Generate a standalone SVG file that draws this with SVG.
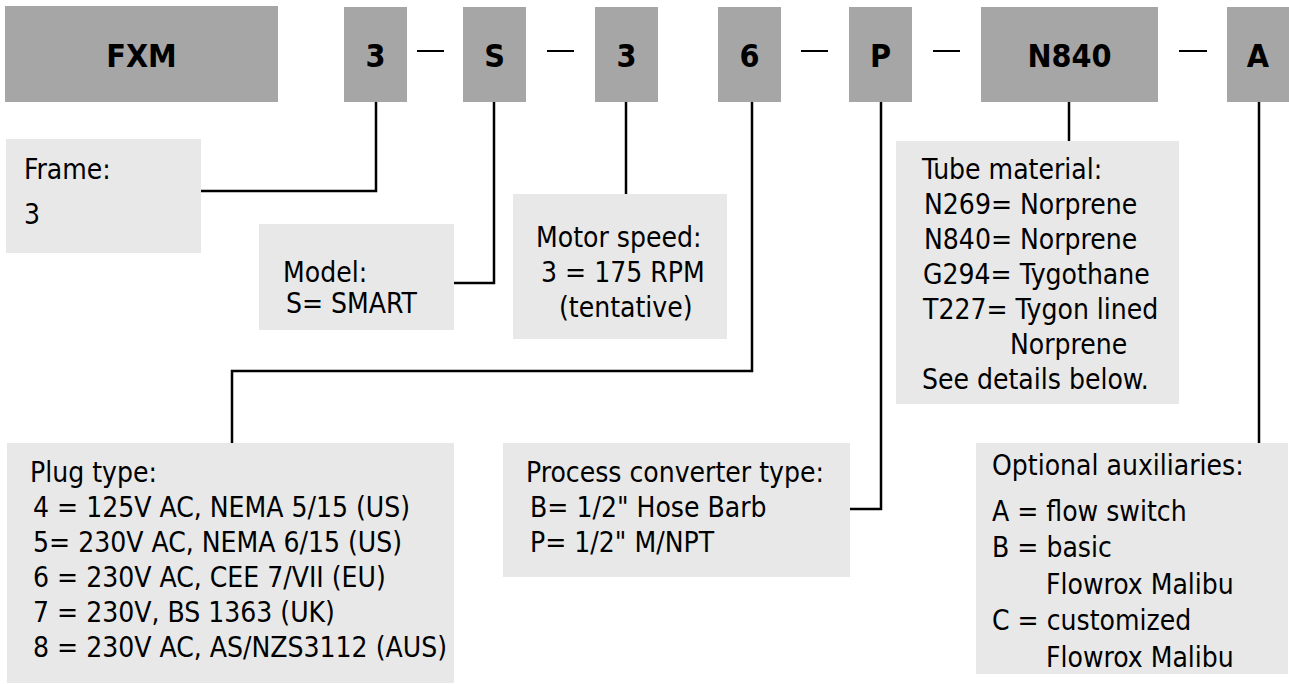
<svg xmlns="http://www.w3.org/2000/svg" width="1289" height="684" viewBox="0 0 1289 684">
<style>
.code{fill:#a6a6a6}
.box{fill:#e8e8e8}
.ct{font-family:"DejaVu Sans Condensed","DejaVu Sans",sans-serif;font-stretch:condensed;font-weight:bold;font-size:32px;fill:#000;text-anchor:middle}
.t{font-family:"DejaVu Sans Condensed","DejaVu Sans",sans-serif;font-stretch:condensed;font-size:28px;fill:#000}
.ln{fill:none;stroke:#000;stroke-width:2.5}
.dash{stroke:#000;stroke-width:2}
</style>
<rect width="1289" height="684" fill="#fff"/>
<g id="code-FXM"><rect class="code" x="5" y="6" width="273" height="96"/><text class="ct" x="141.5" y="67">FXM</text></g>
<g id="code-frame"><rect class="code" x="344" y="7" width="63" height="95"/><text class="ct" x="375.5" y="67">3</text></g>
<g id="code-model"><rect class="code" x="463" y="7" width="63" height="95"/><text class="ct" x="494.5" y="67">S</text></g>
<g id="code-speed"><rect class="code" x="595" y="7" width="63" height="95"/><text class="ct" x="626.5" y="67">3</text></g>
<g id="code-plug"><rect class="code" x="718" y="7" width="63" height="95"/><text class="ct" x="749.5" y="67">6</text></g>
<g id="code-converter"><rect class="code" x="849" y="7" width="63" height="95"/><text class="ct" x="880.5" y="67">P</text></g>
<g id="code-tube"><rect class="code" x="981" y="7" width="177" height="95"/><text class="ct" x="1069.5" y="67">N840</text></g>
<g id="code-aux"><rect class="code" x="1227" y="7" width="62" height="95"/><text class="ct" x="1258" y="67">A</text></g>
<g id="dashes">
<line class="dash" x1="417" y1="51" x2="444" y2="51"/>
<line class="dash" x1="547" y1="51" x2="574" y2="51"/>
<line class="dash" x1="801" y1="51" x2="828" y2="51"/>
<line class="dash" x1="933" y1="51" x2="960" y2="51"/>
<line class="dash" x1="1179" y1="51" x2="1207" y2="51"/>
</g>
<g id="frame-box"><rect class="box" x="6" y="139" width="195" height="114"/>
<text class="t" x="24" y="179">Frame:</text><text class="t" x="24" y="224">3</text></g>
<g id="model-box"><rect class="box" x="259" y="224" width="195" height="106"/>
<text class="t" x="283" y="282">Model:</text><text class="t" x="286" y="313">S= SMART</text></g>
<g id="speed-box"><rect class="box" x="513" y="194" width="214" height="145"/>
<text class="t" x="536" y="247">Motor speed:</text><text class="t" x="541" y="282">3 = 175 RPM</text><text class="t" x="559" y="317">(tentative)</text></g>
<g id="tube-box"><rect class="box" x="896" y="141" width="283" height="263"/>
<text class="t" x="922" y="179">Tube material:</text>
<text class="t" x="924" y="214">N269= Norprene</text>
<text class="t" x="924" y="249">N840= Norprene</text>
<text class="t" x="923" y="284">G294= Tygothane</text>
<text class="t" x="923" y="319">T227= Tygon lined</text>
<text class="t" x="1010" y="354">Norprene</text>
<text class="t" x="922" y="389">See details below.</text></g>
<g id="plug-box"><rect class="box" x="7" y="443" width="447" height="240"/>
<text class="t" x="30" y="482">Plug type:</text>
<text class="t" x="33" y="517">4 = 125V AC, NEMA 5/15 (US)</text>
<text class="t" x="33" y="552">5= 230V AC, NEMA 6/15 (US)</text>
<text class="t" x="33" y="587">6 = 230V AC, CEE 7/VII (EU)</text>
<text class="t" x="33" y="622">7 = 230V, BS 1363 (UK)</text>
<text class="t" x="33" y="657">8 = 230V AC, AS/NZS3112 (AUS)</text></g>
<g id="converter-box"><rect class="box" x="503" y="443" width="347" height="134"/>
<text class="t" x="526" y="482">Process converter type:</text>
<text class="t" x="530" y="517">B= 1/2" Hose Barb</text>
<text class="t" x="530" y="552">P= 1/2" M/NPT</text></g>
<g id="aux-box"><rect class="box" x="976" y="443" width="312" height="231"/>
<text class="t" x="992" y="475">Optional auxiliaries:</text>
<text class="t" x="992" y="521">A = flow switch</text>
<text class="t" x="992" y="557">B = basic</text>
<text class="t" x="1046" y="594">Flowrox Malibu</text>
<text class="t" x="992" y="630">C = customized</text>
<text class="t" x="1046" y="667">Flowrox Malibu</text></g>
<g id="connectors">
<polyline class="ln" points="376,102 376,191 201,191"/>
<polyline class="ln" points="494,102 494,283 454,283"/>
<polyline class="ln" points="626,102 626,194"/>
<polyline class="ln" points="752,102 752,371 232,371 232,443"/>
<polyline class="ln" points="881,102 881,509 850,509"/>
<polyline class="ln" points="1069,102 1069,141"/>
<polyline class="ln" points="1259,102 1259,443"/>
</g>
</svg>
